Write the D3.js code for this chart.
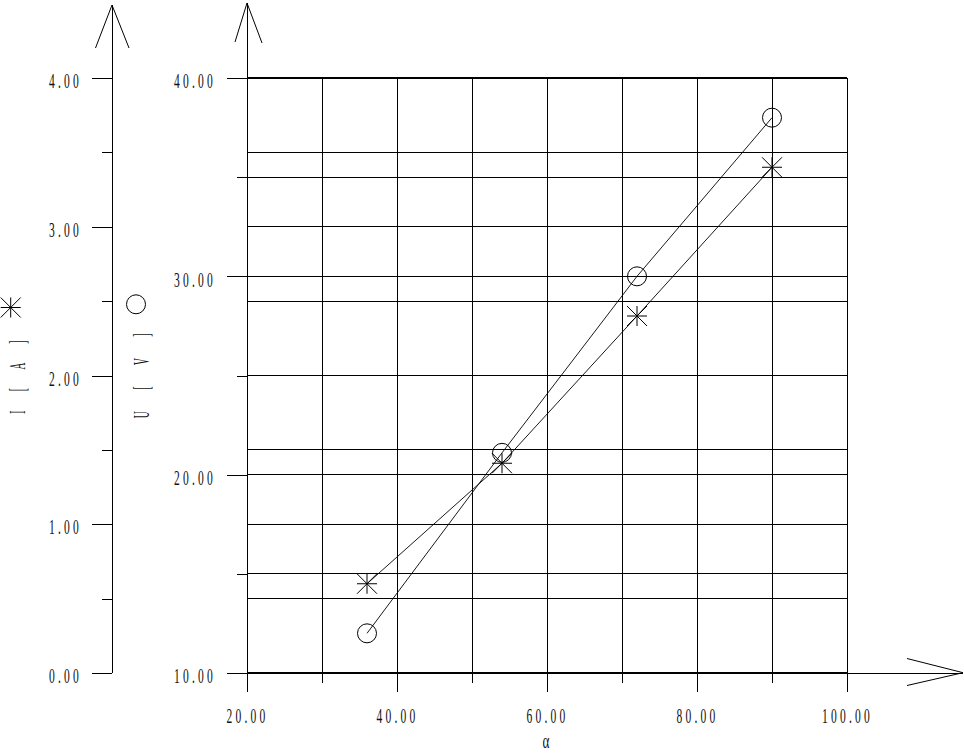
<!DOCTYPE html>
<html>
<head>
<meta charset="utf-8">
<script src="https://cdn.jsdelivr.net/npm/d3@7"></script>
<style>
  html, body { margin: 0; padding: 0; background: #fff; }
  svg { display: block; }
  text { font-family: "Liberation Serif", "Times New Roman", serif; fill: #111; }
</style>
</head>
<body>
<script>
// ---- data ----
const alpha    = [36, 54, 72, 90];
const currentI = [0.6, 1.41, 2.4, 3.4];     // I [A]  (asterisks)
const voltageU = [12.0, 21.1, 30.0, 38.0];  // U [V]  (circles)

// ---- ticks ----
const xMajor = [20, 40, 60, 80, 100];
const xMinor = [30, 50, 70, 90];
const iMajor = [0, 1, 2, 3, 4];
const iMinor = [0.5, 1.5, 2.5, 3.5];
const uMajor = [10, 20, 30, 40];
const uMinor = [15, 25, 35];

const W = 964, H = 754;
const svg = d3.select("body").append("svg").attr("width", W).attr("height", H);

const x  = d3.scaleLinear().domain([20, 100]).range([247, 847]);
const yI = d3.scaleLinear().domain([0, 4]).range([673, 78]);
const yU = d3.scaleLinear().domain([10, 40]).range([673, 78]);

const [x0, x1] = x.range();
const yBot = yI(0), yTop = yI(4);
const fmt = d3.format(".2f");

// ---- grid ----
const grid = svg.append("g").attr("stroke", "#000").attr("shape-rendering", "crispEdges");
const hVals = [...iMajor, ...iMinor].filter(v => v > 0 && v < 4).map(v => yI(v))
  .concat([...uMajor, ...uMinor].filter(v => v > 10 && v < 40).map(v => yU(v)));
grid.selectAll("line.h").data(hVals).join("line").attr("class", "h")
  .attr("x1", x0).attr("x2", x1).attr("y1", d => d).attr("y2", d => d).attr("stroke-width", 1);
grid.selectAll("line.v").data([...xMajor, ...xMinor].filter(v => v > 20)).join("line").attr("class", "v")
  .attr("x1", d => x(d)).attr("x2", d => x(d)).attr("y1", yTop).attr("y2", yBot).attr("stroke-width", 1);
// thick top / bottom borders
grid.append("line").attr("x1", x0).attr("x2", x1).attr("y1", yTop - 0.5).attr("y2", yTop - 0.5).attr("stroke-width", 2);
grid.append("line").attr("x1", x0).attr("x2", x1).attr("y1", yBot - 0.5).attr("y2", yBot - 0.5).attr("stroke-width", 2);

// ---- axes ----
function styleAxis(g) {
  g.select(".domain").remove();
  g.selectAll(".tick line").attr("stroke", "#000").attr("shape-rendering", "crispEdges");
}
function leftLabels(g, dxEdge) {
  g.selectAll(".tick text")
    .attr("x", 0).attr("dy", null).attr("fill", "#111")
    .attr("font-size", 21).attr("letter-spacing", 5.8)
    .attr("text-anchor", "end")
    .attr("transform", `translate(${dxEdge},9.7) scale(0.55,1)`);
}

// I axis (left)
const axI = 112;
const gI = svg.append("g").attr("transform", `translate(${axI},0)`);
gI.call(d3.axisLeft(yI).tickValues(iMajor).tickSize(20).tickFormat(fmt)).call(styleAxis).call(g => leftLabels(g, 82 - axI));
const gIm = svg.append("g").attr("transform", `translate(${axI},0)`);
gIm.call(d3.axisLeft(yI).tickValues(iMinor).tickSize(10).tickFormat("")).call(styleAxis);
svg.append("line").attr("x1", axI).attr("x2", axI).attr("y1", 5).attr("y2", yBot).attr("stroke", "#000").attr("shape-rendering", "crispEdges");
svg.append("path").attr("d", `M${axI - 16.5},48 L${axI},5 L${axI + 17},48`).attr("fill", "none").attr("stroke", "#000");

// U axis
const axU = x0;
const gU = svg.append("g").attr("transform", `translate(${axU},0)`);
gU.call(d3.axisLeft(yU).tickValues(uMajor).tickSize(20).tickFormat(fmt)).call(styleAxis).call(g => leftLabels(g, 216 - axU));
const gUm = svg.append("g").attr("transform", `translate(${axU},0)`);
gUm.call(d3.axisLeft(yU).tickValues(uMinor).tickSize(10).tickFormat("")).call(styleAxis);
svg.append("line").attr("x1", axU).attr("x2", axU).attr("y1", 3).attr("y2", yBot).attr("stroke", "#000").attr("shape-rendering", "crispEdges");
svg.append("path").attr("d", `M${axU - 12},42 L${axU},3 L${axU + 15},43`).attr("fill", "none").attr("stroke", "#000");

// X axis
const gX = svg.append("g").attr("transform", `translate(0,${yBot})`);
gX.call(d3.axisBottom(x).tickValues(xMajor).tickSize(19).tickFormat(fmt)).call(styleAxis);
gX.selectAll(".tick text")
  .attr("y", 0).attr("dy", null).attr("fill", "#111")
  .attr("font-size", 21).attr("letter-spacing", 5.8).attr("text-anchor", "middle")
  .attr("transform", `translate(0,${723 - yBot}) scale(0.55,1)`);
const gXm = svg.append("g").attr("transform", `translate(0,${yBot})`);
gXm.call(d3.axisBottom(x).tickValues(xMinor).tickSize(10).tickFormat("")).call(styleAxis);
svg.append("line").attr("x1", x1).attr("x2", 963).attr("y1", yBot).attr("y2", yBot).attr("stroke", "#000").attr("shape-rendering", "crispEdges");
svg.append("path").attr("d", `M907,658.5 L963,672.7 L907,685.5`).attr("fill", "none").attr("stroke", "#000");

// axis titles
svg.append("text").text("α").attr("font-size", 22).attr("text-anchor", "middle")
  .attr("transform", `translate(546,748) scale(0.6,1)`);
svg.append("text").text("I [ A ]").attr("font-size", 24).attr("letter-spacing", 21).attr("text-anchor", "middle")
  .attr("transform", `translate(25,373) rotate(-90) scale(0.4,1)`);
svg.append("text").text("U [ V ]").attr("font-size", 24).attr("letter-spacing", 24).attr("text-anchor", "middle")
  .attr("transform", `translate(149.3,371) rotate(-90) scale(0.4,1)`);

// ---- markers ----
const starPath = "M-10,0L10,0M0,-10L0,10M-10,-10L10,10M-10,10L10,-10";
const R = 9.5;

// legend markers
svg.append("path").attr("d", starPath).attr("transform", "translate(10.7,307.5)").attr("stroke", "#000").attr("fill", "none");
svg.append("circle").attr("cx", 136).attr("cy", 304.3).attr("r", R).attr("stroke", "#000").attr("fill", "none");

// ---- series ----
const ptsI = alpha.map((a, i) => [x(a), yI(currentI[i])]);
const ptsU = alpha.map((a, i) => [x(a), yU(voltageU[i])]);
const line = d3.line();
svg.append("path").attr("d", line(ptsI)).attr("fill", "none").attr("stroke", "#000").attr("stroke-width", 0.9);
svg.append("path").attr("d", line(ptsU)).attr("fill", "none").attr("stroke", "#000").attr("stroke-width", 0.9);

svg.selectAll("path.star").data(ptsI).join("path").attr("class", "star")
  .attr("d", starPath).attr("transform", d => `translate(${d[0]},${d[1]})`)
  .attr("stroke", "#000").attr("fill", "none");
svg.selectAll("circle.pt").data(ptsU).join("circle").attr("class", "pt")
  .attr("cx", d => d[0]).attr("cy", d => d[1]).attr("r", R)
  .attr("stroke", "#000").attr("fill", "none");
</script>
</body>
</html>
